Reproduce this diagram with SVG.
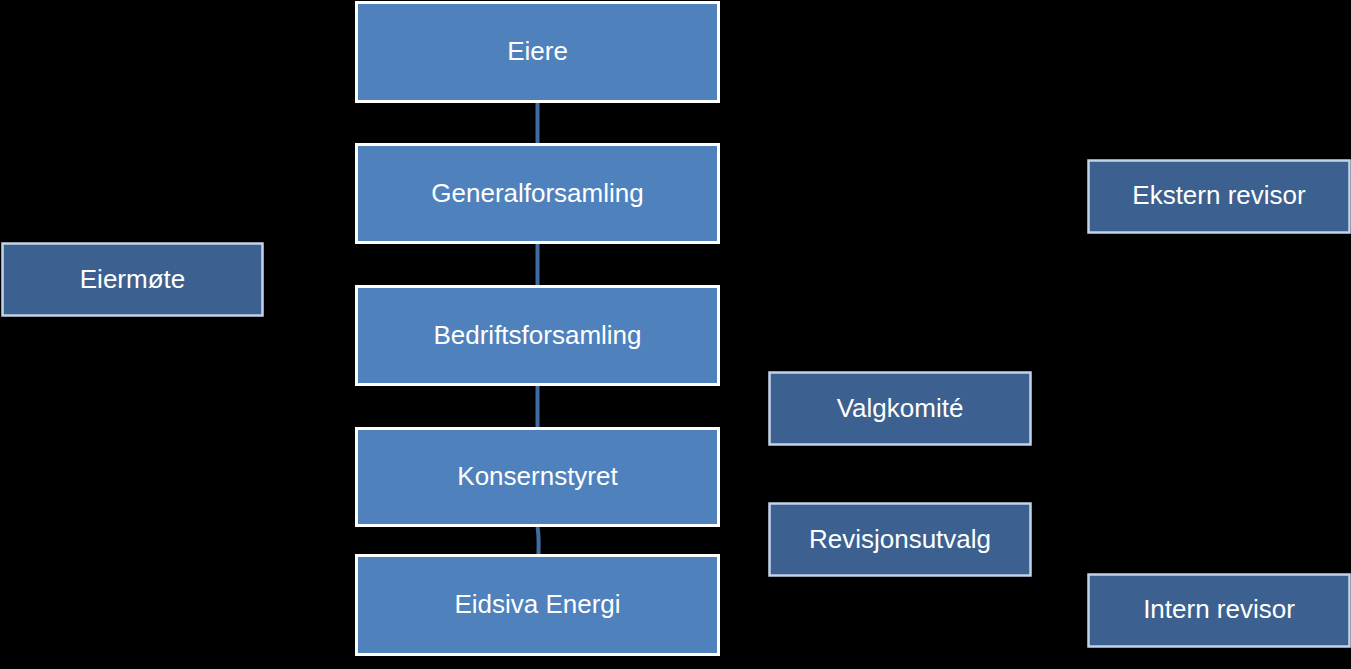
<svg xmlns="http://www.w3.org/2000/svg" width="1351" height="669" viewBox="0 0 1351 669">
  <style>
    .main rect { fill: #4f81bd; stroke: #ffffff; stroke-width: 3; }
    .sub rect { fill: #3c6190; stroke: #c2d3ea; stroke-width: 2.5; }
    text { font-family: "Liberation Sans", Arial, sans-serif; font-size: 26px; fill: #ffffff; text-anchor: middle; }
    .blue { stroke: #3f6ca3; stroke-width: 4; fill: none; }
    .dark { stroke: #000000; stroke-width: 1.5; fill: none; marker-end: url(#arr); }
  </style>
  <defs>
    <marker id="arr" viewBox="0 0 10 10" refX="10" refY="5" markerWidth="5" markerHeight="5" orient="auto" markerUnits="strokeWidth">
      <path d="M0,0 L10,5 L0,10 z" fill="#000000"/>
    </marker>
  </defs>
  <rect x="0" y="0" width="1351" height="669" fill="#000000"/>

  <g id="connectors">
    <line class="blue" x1="537.5" y1="103" x2="537.5" y2="143"/>
    <line class="blue" x1="537.5" y1="244" x2="537.5" y2="285"/>
    <line class="blue" x1="537.5" y1="386" x2="537.5" y2="427"/>
    <path class="blue" d="M537.5,527 Q539,535 538.5,554"/>
    <path class="dark" d="M133,243 L133,43 L355,43"/>
    <path class="dark" d="M133,316 L133,607 L355,607"/>
    <path class="dark" d="M900,372 L900,338 L720,338"/>
    <line class="dark" x1="900" y1="446" x2="900" y2="503"/>
    <path class="dark" d="M1220,233 L1220,290 L1060,290 L1060,197 L1088,197"/>
    <path class="dark" d="M903,576 L903,607 L1088,607"/>
    <line class="dark" x1="1232" y1="250" x2="1232" y2="574"/>
  </g>

  <g id="eiere" class="main">
    <rect x="356.5" y="2.5" width="362" height="99"/>
    <text x="537.5" y="60">Eiere</text>
  </g>
  <g id="generalforsamling" class="main">
    <rect x="356.5" y="144.5" width="362" height="98"/>
    <text x="537.5" y="202">Generalforsamling</text>
  </g>
  <g id="bedriftsforsamling" class="main">
    <rect x="356.5" y="286.5" width="362" height="98"/>
    <text x="537.5" y="344">Bedriftsforsamling</text>
  </g>
  <g id="konsernstyret" class="main">
    <rect x="356.5" y="428.5" width="362" height="97"/>
    <text x="537.5" y="485">Konsernstyret</text>
  </g>
  <g id="eidsiva-energi" class="main">
    <rect x="356.5" y="555.5" width="362" height="99"/>
    <text x="537.5" y="613">Eidsiva Energi</text>
  </g>

  <g id="eiermote" class="sub">
    <rect x="2.5" y="243.5" width="260" height="72"/>
    <text x="132.5" y="288">Eiermøte</text>
  </g>
  <g id="valgkomite" class="sub">
    <rect x="769.5" y="372.5" width="261" height="72"/>
    <text x="900" y="417">Valgkomité</text>
  </g>
  <g id="revisjonsutvalg" class="sub">
    <rect x="769.5" y="503.5" width="261" height="72"/>
    <text x="900" y="548">Revisjonsutvalg</text>
  </g>
  <g id="ekstern-revisor" class="sub">
    <rect x="1088.5" y="160.5" width="261" height="72"/>
    <text x="1219" y="204">Ekstern revisor</text>
  </g>
  <g id="intern-revisor" class="sub">
    <rect x="1088.5" y="574.5" width="261" height="72"/>
    <text x="1219" y="618">Intern revisor</text>
  </g>
</svg>
